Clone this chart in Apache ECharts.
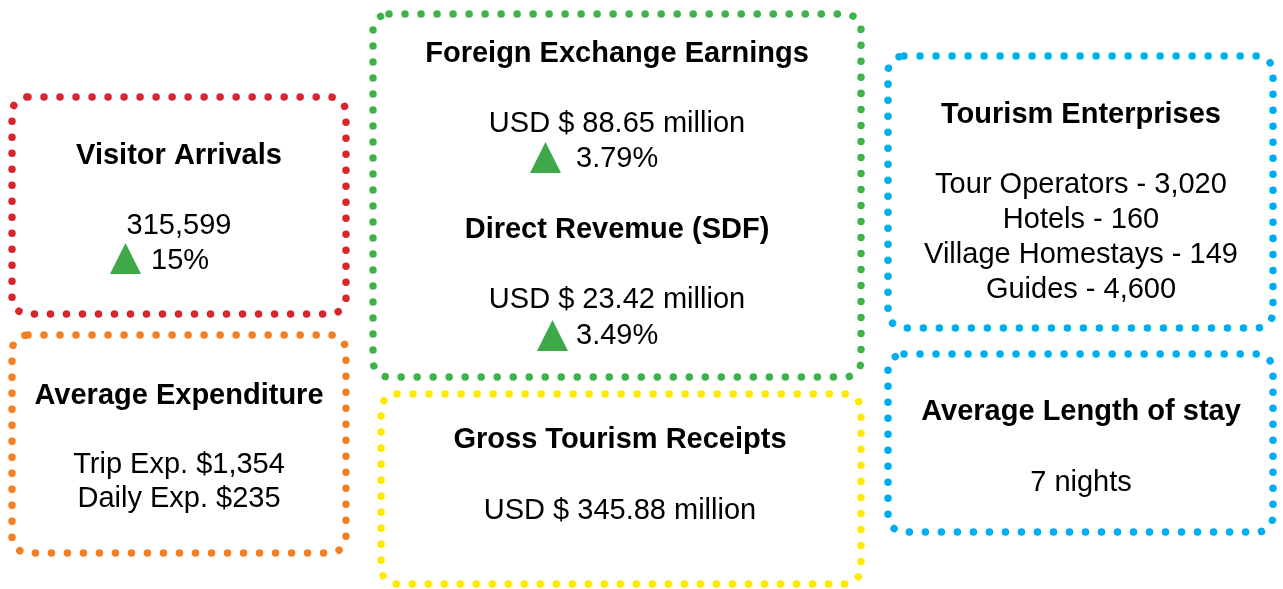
<!DOCTYPE html>
<html>
<head>
<meta charset="utf-8">
<script src="https://cdn.jsdelivr.net/npm/echarts@6/dist/echarts.min.js"></script>
<style>
  html, body { margin: 0; padding: 0; background: #fff; }
  #chart { width: 1283px; height: 589px; }
</style>
</head>
<body>
<div id="chart"></div>
<script>
// card titles
const titles = ['Visitor Arrivals', 'Average Expenditure', 'Foreign Exchange Earnings',
  'Direct Revemue (SDF)', 'Gross Tourism Receipts', 'Tourism Enterprises', 'Average Length of stay'];
// value lines under each title (same order as titles)
const valueLines = [
  ['315,599'],
  ['Trip Exp. $1,354', 'Daily Exp. $235'],
  ['USD $ 88.65 million'],
  ['USD $ 23.42 million'],
  ['USD $ 345.88 million'],
  ['Tour Operators - 3,020', 'Hotels - 160', 'Village Homestays - 149', 'Guides - 4,600'],
  ['7 nights']
];
// growth with up arrow: visitor arrivals, foreign exchange, direct revenue
const growth = ['15%', '3.79%', '3.49%'];

const FONT = '"Liberation Sans", Arial, sans-serif';
const GREEN_UP = '#3fa94a';

// box frames [x, y, w, h, color]
const boxes = [
  [12, 97, 334, 217, '#d7262e'],
  [12, 335, 334, 218, '#f37f21'],
  [373, 14, 488, 363, '#3db34a'],
  [381, 394, 480, 190, '#ffea00'],
  [888, 56, 385, 272, '#00aeef'],
  [888, 354, 385, 178, '#00aeef']
];
// title centres and first-line / line spacing
const titlePos = [[179, 156], [179, 396], [617, 54], [617, 230], [620, 440], [1081, 115], [1081, 412]];
const linePos = [[179, 226, 0], [179, 465, 34], [617, 124, 0], [617, 300, 0], [620, 511, 0], [1081, 185, 35], [1081, 483, 0]];
const growthPos = [[110, 243, 151, 261], [530, 142, 576, 159], [537, 320, 576, 336]];

let chart = echarts.init(document.getElementById('chart'));
let els = [];

boxes.forEach(b => {
  els.push({
    type: 'rect',
    shape: { x: b[0], y: b[1], width: b[2], height: b[3], r: 16 },
    style: { fill: 'none', stroke: b[4], lineWidth: 7.5, lineDash: [0.01, 16], lineCap: 'round' }
  });
});

function txt(s, x, y, bold, align) {
  return {
    type: 'text',
    style: {
      text: s, x: x, y: y,
      font: (bold ? 'bold ' : '') + '29px ' + FONT,
      fill: '#000',
      align: align || 'center', verticalAlign: 'middle',
      textAlign: align || 'center', textVerticalAlign: 'middle'
    }
  };
}

titles.forEach((t, i) => {
  els.push(txt(t, titlePos[i][0], titlePos[i][1], true));
  valueLines[i].forEach((l, j) => {
    els.push(txt(l, linePos[i][0], linePos[i][1] + j * linePos[i][2], false));
  });
});

growth.forEach((g, i) => {
  let p = growthPos[i];
  els.push({
    type: 'polygon',
    shape: { points: [[p[0], p[1] + 31], [p[0] + 15.5, p[1]], [p[0] + 31, p[1] + 31]] },
    style: { fill: GREEN_UP }
  });
  els.push(txt(g, p[2], p[3], false, 'left'));
});

chart.setOption({
  animation: false,
  graphic: { elements: els }
});
</script>
</body>
</html>
